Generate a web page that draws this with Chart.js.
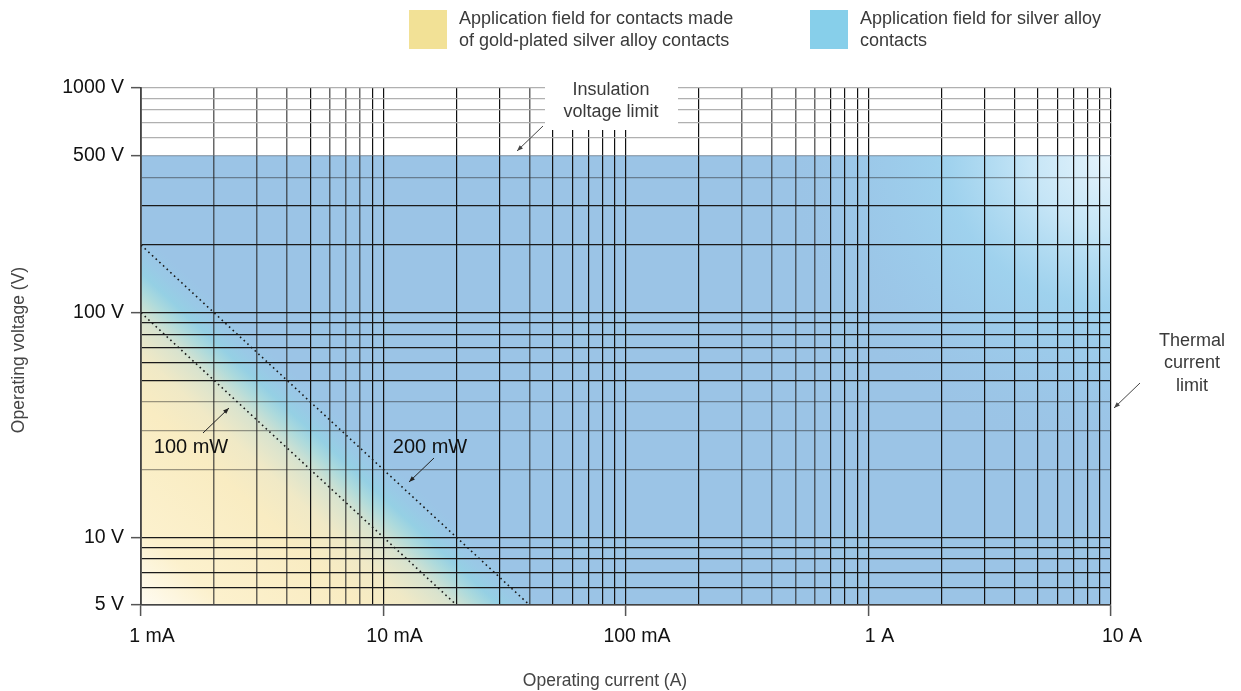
<!DOCTYPE html>
<html><head><meta charset="utf-8">
<script src="https://cdn.jsdelivr.net/npm/chart.js@4.4.1/dist/chart.umd.min.js"></script>
<style>html,body{margin:0;padding:0;background:#fff;}canvas{display:block}</style>
</head><body>
<canvas id="c" width="1241" height="691"></canvas>
<script>
// ---- data ----
const xGrid = [0.001,0.002,0.003,0.004,0.005,0.006,0.007,0.008,0.009,
  0.01,0.02,0.03,0.04,0.05,0.06,0.07,0.08,0.09,
  0.1,0.2,0.3,0.4,0.5,0.6,0.7,0.8,0.9,
  1,2,3,4,5,6,7,8,9,10];
const xMajor = [0.001,0.01,0.1,1,10];
const xMajorLabels = ['1 mA','10 mA','100 mA','1 A','10 A'];
const yGrid = [5,6,7,8,9,10,20,30,40,50,60,70,80,90,100,200,300,400,500,600,700,800,900,1000];
const yMajor = [5,10,100,500,1000];
const yMajorLabels = ['5 V','10 V','100 V','500 V','1000 V'];
const line100mW_current = [0.001,0.02];
const line100mW_voltage = [100,5];
const line200mW_current = [0.001,0.04];
const line200mW_voltage = [200,5];
const fieldCurrent = [0.001,10];   // thermal current limit = 10 A
const fieldVoltage = [5,500];      // insulation voltage limit = 500 V
const legendLabels = [['Application field for contacts made','of gold-plated silver alloy contacts'],['Application field for silver alloy','contacts']];

const FONT='"Liberation Sans", Arial, sans-serif';
const near = (a,b)=>Math.abs(a-b) <= Math.abs(b)*1e-6;
const idxOf = (arr,v)=>arr.findIndex(a=>near(v,a));

function xGridColor(v){
  const gray=[0.002,0.003,0.004,0.006,0.007,0.008,0.04,0.3,0.4,0.5,0.6];
  if (idxOf(gray,v)>=0) return 'rgba(40,40,40,0.7)';
  return '#111';
}
function yGridColor(v){
  if (v>500) return '#b0b0b0';
  if (v===500) return 'rgba(90,110,130,0.6)';
  if ([400,40,30,20].includes(v)) return 'rgba(40,40,40,0.45)';
  return '#1a1a1a';
}

const fieldPlugin = {
  id:'field',
  beforeDraw(chart){
    const {ctx, scales:{x,y}} = chart;
    const x0=x.getPixelForValue(fieldCurrent[0]), x1=x.getPixelForValue(fieldCurrent[1]);
    const yTop=y.getPixelForValue(fieldVoltage[1]), yBot=y.getPixelForValue(fieldVoltage[0]);
    ctx.save();
    ctx.beginPath(); ctx.rect(x0,yTop,x1-x0,yBot-yTop); ctx.clip();
    const kx=(x.getPixelForValue(10)-x.getPixelForValue(0.001))/4;
    const ky=(y.getPixelForValue(5)-y.getPixelForValue(500))/2;
    const gx=1/kx, gy=-1/ky, gl=Math.hypot(gx,gy);
    const nx=gx/gl, ny=gy/gl;
    const P0=fieldCurrent[0]*fieldVoltage[0], Pend=0.4;
    const D=Math.log10(Pend/P0);
    const Ax=x0, Ay=yBot;
    const Bx=Ax+nx*D/gl, By=Ay+ny*D/gl;
    const g=ctx.createLinearGradient(Ax,Ay,Bx,By);
    const stop=(P,c)=>g.addColorStop(Math.log10(P/P0)/D,c);
    stop(0.005,'#fefbf2');
    stop(0.011,'#fcf1cd');
    stop(0.04,'#f9ecc2');
    stop(0.065,'#f0e9c6');
    stop(0.095,'#d9e3ce');
    stop(0.125,'#addadc');
    stop(0.15,'#95d0e4');
    stop(0.18,'#99c9e6');
    stop(0.23,'#9bc4e6');
    stop(0.4,'#9bc4e6');
    ctx.fillStyle=g;
    ctx.fillRect(x0,yTop,x1-x0,yBot-yTop);
    // light top-right corner
    ctx.save();
    ctx.translate(x1,yTop); ctx.scale(1.1,1);
    const r=ctx.createRadialGradient(0,0,0,0,0,300);
    r.addColorStop(0,'rgba(230,244,252,1)');
    r.addColorStop(0.25,'rgba(200,231,247,0.95)');
    r.addColorStop(0.5,'rgba(160,214,240,0.75)');
    r.addColorStop(0.75,'rgba(156,208,238,0.35)');
    r.addColorStop(1,'rgba(155,196,230,0)');
    ctx.fillStyle=r;
    ctx.fillRect(-400,0,400,320);
    ctx.restore();
    ctx.restore();
  }
};

function arrow(ctx,x1,y1,x2,y2){ // arrowhead at (x2,y2)
  ctx.beginPath(); ctx.moveTo(x1,y1); ctx.lineTo(x2,y2); ctx.stroke();
  const a=Math.atan2(y2-y1,x2-x1), L=6, W=2.3;
  ctx.beginPath();
  ctx.moveTo(x2,y2);
  ctx.lineTo(x2-L*Math.cos(a)+W*Math.sin(a), y2-L*Math.sin(a)-W*Math.cos(a));
  ctx.lineTo(x2-L*Math.cos(a)-W*Math.sin(a), y2-L*Math.sin(a)+W*Math.cos(a));
  ctx.closePath(); ctx.fill();
}

const annoPlugin = {
  id:'anno',
  afterDatasetsDraw(chart){
    const {ctx} = chart;
    ctx.save();
    ctx.fillStyle='#fff';
    ctx.fillRect(545,70,133,60);
    ctx.font='18px '+FONT;
    ctx.fillStyle='#3a3a3a';
    ctx.textAlign='center'; ctx.textBaseline='middle';
    ctx.fillText('Insulation',611,90);
    ctx.fillText('voltage limit',611,112);
    ctx.fillText('Thermal',1192,341);
    ctx.fillText('current',1192,363);
    ctx.fillText('limit',1192,386);
    ctx.fillStyle='#111';
    ctx.font='20px '+FONT;
    ctx.fillText('100 mW',191,447);
    ctx.fillText('200 mW',430,447);
    ctx.strokeStyle='#222'; ctx.fillStyle='#222'; ctx.lineWidth=1;
    arrow(ctx,203,433,229,408);
    arrow(ctx,434,458,409,482);
    ctx.strokeStyle='#444'; ctx.fillStyle='#444';
    arrow(ctx,543,126,517,151);
    arrow(ctx,1140,383,1114,408);
    // legend
    ctx.fillStyle='#f2e196'; ctx.fillRect(409,10,38,39);
    ctx.fillStyle='#87cfea'; ctx.fillRect(810,10,38,39);
    ctx.fillStyle='#3a3a3a'; ctx.textAlign='left';
    ctx.font='18px '+FONT;
    ctx.fillText(legendLabels[0][0],459,19);
    ctx.fillText(legendLabels[0][1],459,41);
    ctx.fillText(legendLabels[1][0],860,19);
    ctx.fillText(legendLabels[1][1],860,41);
    // axis titles
    ctx.fillStyle='#444'; ctx.textAlign='center';
    ctx.font='17.5px '+FONT;
    ctx.fillText('Operating current (A)',605,681);
    ctx.translate(19,350); ctx.rotate(-Math.PI/2);
    ctx.fillText('Operating voltage (V)',0,0);
    ctx.restore();
  }
};

const toPts=(xs,ys)=>xs.map((v,i)=>({x:v,y:ys[i]}));
new Chart(document.getElementById('c'),{
  type:'scatter',
  data:{datasets:[
    {type:'line',label:'100 mW',data:toPts(line100mW_current,line100mW_voltage),borderColor:'#1a1a1a',borderWidth:1.6,borderDash:[1.6,3.4],pointRadius:0,fill:false},
    {type:'line',label:'200 mW',data:toPts(line200mW_current,line200mW_voltage),borderColor:'#1a1a1a',borderWidth:1.6,borderDash:[1.6,3.4],pointRadius:0,fill:false}
  ]},
  options:{
    responsive:false, animation:false, devicePixelRatio:1,
    layout:{padding:{top:88,right:130,left:0,bottom:0}},
    plugins:{legend:{display:false},tooltip:{enabled:false}},
    scales:{
      x:{type:'logarithmic',min:0.001,max:10,
        afterBuildTicks(s){ s.ticks = xGrid.map(v=>({value:v, major: idxOf(xMajor,v)>=0})); },
        afterFit(s){ s.height=86; s.paddingLeft=0; s.paddingRight=0; },
        ticks:{autoSkip:false,maxRotation:0,minRotation:0,padding:9,labelOffset:11,color:'#111',
          font:{family:FONT,size:19.5},
          callback(v){ const i=idxOf(xMajor,v); return i>=0?xMajorLabels[i]:''; }},
        grid:{color:c=>xGridColor(c.tick.value), lineWidth:c=>xGridColor(c.tick.value)==='#111'?1.2:1.5,
          drawTicks:true,tickLength:11,tickWidth:1.5,
          tickColor:c=>(c.tick&&idxOf(xMajor,c.tick.value)>=0)?'#555':'rgba(0,0,0,0)'},
        border:{color:'#444',width:1.5}
      },
      y:{type:'logarithmic',min:5,max:1000,
        afterBuildTicks(s){ s.ticks = yGrid.map(v=>({value:v, major: yMajor.includes(v)})); },
        afterFit(s){ s.width=141; s.paddingTop=0; s.paddingBottom=0; },
        ticks:{autoSkip:false,padding:7,color:'#111',
          font:{family:FONT,size:19.5},
          callback(v){ const i=idxOf(yMajor,v); return i>=0?yMajorLabels[i]:''; }},
        grid:{color:c=>yGridColor(c.tick.value), lineWidth:1.3,
          drawTicks:true,tickLength:10,tickWidth:1.5,
          tickColor:c=>(c.tick&&yMajor.includes(c.tick.value))?'#555':'rgba(0,0,0,0)'},
        border:{color:'#444',width:1.8}
      }
    }
  },
  plugins:[fieldPlugin,annoPlugin]
});
</script>
</body></html>
